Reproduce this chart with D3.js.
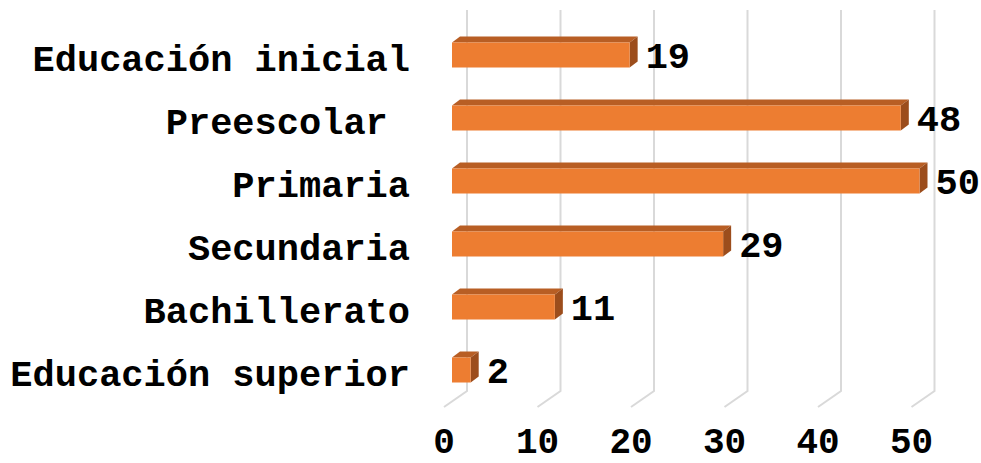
<!DOCTYPE html>
<html>
<head>
<meta charset="utf-8">
<script src="https://cdn.jsdelivr.net/npm/d3@7/dist/d3.min.js"></script>
<style>
  html, body { margin: 0; padding: 0; background: #ffffff; }
  svg { display: block; }
  text { font-family: "Liberation Mono", "Courier New", monospace; font-weight: bold; fill: #000; }
</style>
</head>
<body>
<svg id="chart" width="981" height="463"></svg>
<script>
const categories = ["Educación inicial", "Preescolar ", "Primaria", "Secundaria", "Bachillerato", "Educación superior"];
const values = [19, 48, 50, 29, 11, 2];
const tickValues = [0, 10, 20, 30, 40, 50];

const W = 981, H = 463;
const svg = d3.select("#chart");

// front plane of bars
const x = d3.scaleLinear().domain([0, 50]).range([452, 919.5]);
const y = d3.scalePoint().domain(categories).range([55, 370]);
const barH = 25;

// depth offsets
const wallDx = 15, wallTop = 10, wallBottom = 391;
const floorDx = -23, floorDy = 16;
const depthDx = 8, depthDy = -6;

// gridlines (back wall + floor)
const grid = svg.append("g");
tickValues.forEach(t => {
  const xw = x(t) + wallDx;
  grid.append("path")
    .attr("d", `M${xw},${wallTop} L${xw},${wallBottom} L${xw + floorDx},${wallBottom + floorDy}`)
    .attr("fill", "none")
    .attr("stroke", "#d9d9d9")
    .attr("stroke-width", 2);
});

// axis labels
svg.append("g").selectAll("text").data(tickValues).join("text")
  .attr("x", d => x(d) + wallDx + floorDx)
  .attr("y", 453)
  .attr("text-anchor", "middle")
  .attr("font-size", 36)
  .text(d => d);

// bars
const bars = svg.append("g");
categories.forEach((c, i) => {
  const v = values[i];
  const x0 = x(0), x1 = x(v);
  const yt = y(c) - barH / 2, yb = y(c) + barH / 2;
  const g = bars.append("g");
  // top face
  g.append("path")
    .attr("d", `M${x0},${yt} L${x0 + depthDx},${yt + depthDy} L${x1 + depthDx},${yt + depthDy} L${x1},${yt} Z`)
    .attr("fill", "#b85e24");
  // side face
  g.append("path")
    .attr("d", `M${x1},${yt} L${x1 + depthDx},${yt + depthDy} L${x1 + depthDx},${yb + depthDy} L${x1},${yb} Z`)
    .attr("fill", "#9c4d1c");
  // front face
  g.append("rect")
    .attr("x", x0).attr("y", yt)
    .attr("width", x1 - x0).attr("height", barH)
    .attr("fill", "#ed7d31");
  // value label
  g.append("text")
    .attr("x", x1 + 16)
    .attr("y", y(c) + 13)
    .attr("font-size", 37)
    .text(v);
});

// category labels
svg.append("g").selectAll("text").data(categories).join("text")
  .attr("x", 410)
  .attr("y", d => y(d) + 16)
  .attr("text-anchor", "end")
  .attr("font-size", 37)
  .attr("xml:space", "preserve")
  .style("white-space", "pre")
  .text(d => d);
</script>
</body>
</html>
